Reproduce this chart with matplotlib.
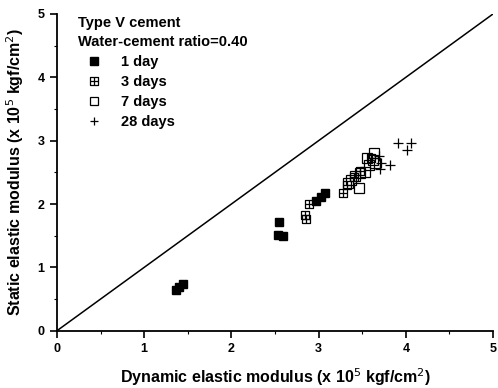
import numpy as np
import matplotlib
matplotlib.use("Agg")
import matplotlib.pyplot as plt
from matplotlib.path import Path
from matplotlib.ticker import MultipleLocator

plt.rcParams['font.family'] = ['Liberation Sans', 'DejaVu Sans']

# 1 day
x1 = [1.36, 1.40, 1.44, 2.53, 2.59, 2.55, 2.97, 3.03, 3.07]
y1 = [0.64, 0.69, 0.74, 1.51, 1.50, 1.71, 2.04, 2.11, 2.18]
# 3 days
x3 = [2.84, 2.86, 2.89, 3.28, 3.32, 3.40, 3.48, 3.60]
y3 = [1.83, 1.76, 2.00, 2.17, 2.30, 2.42, 2.52, 2.72]
# 7 days
x7 = [3.34, 3.37, 3.42, 3.47, 3.53, 3.46, 3.55, 3.62, 3.64, 3.65, 3.58]
y7 = [2.33, 2.38, 2.44, 2.49, 2.51, 2.25, 2.73, 2.70, 2.80, 2.64, 2.62]
# 28 days
x28 = [3.69, 3.70, 3.72, 3.82, 3.91, 4.01, 4.06]
y28 = [2.76, 2.55, 2.64, 2.62, 2.97, 2.85, 2.96]

line_x = [0, 5]
line_y = [0, 5]

# square with a cross inside
verts = [(-1, -1), (1, -1), (1, 1), (-1, 1), (-1, -1),
         (0, -1), (0, 1), (-1, 0), (1, 0)]
codes = [Path.MOVETO, Path.LINETO, Path.LINETO, Path.LINETO, Path.LINETO,
         Path.MOVETO, Path.LINETO, Path.MOVETO, Path.LINETO]
boxplus = Path(verts, codes)

fig = plt.figure(figsize=(4.98, 3.88), dpi=100)
ax = fig.add_axes([0.1145, 0.1477, 0.8755, 0.8163])

ax.plot(line_x, line_y, color='black', lw=1.1)
ax.plot(x1, y1, 's', color='black', ms=6, label='1 day', linestyle='none')
ax.plot(x3, y3, marker=boxplus, color='black', mfc='none', mew=0.9, ms=6,
        label='3 days', linestyle='none')
ax.plot(x7, y7, 's', color='black', mfc='none', mew=0.9, ms=7,
        label='7 days', linestyle='none')
ax.plot(x28, y28, '+', color='black', mew=0.9, ms=7, label='28 days',
        linestyle='none')

ax.set_xlim(0, 5)
ax.set_ylim(0, 5)
ax.xaxis.set_major_locator(MultipleLocator(1))
ax.yaxis.set_major_locator(MultipleLocator(1))
ax.xaxis.set_minor_locator(MultipleLocator(0.5))
ax.yaxis.set_minor_locator(MultipleLocator(0.5))
ax.spines['top'].set_visible(False)
ax.spines['right'].set_visible(False)
ax.spines['left'].set_linewidth(1.3)
ax.spines['bottom'].set_linewidth(1.3)
ax.tick_params(which='major', direction='out', length=5, width=1.2,
               labelsize=9, pad=4)
ax.tick_params(which='minor', direction='out', length=2.5, width=0.8)
for lab in ax.get_xticklabels() + ax.get_yticklabels():
    lab.set_fontweight('bold')

ax.set_xlabel('Dynamic elastic modulus (x 10$^5$ kgf/cm$^2$)', fontsize=11.5,
              fontweight='bold', labelpad=8)
ax.set_ylabel('Static elastic modulus (x 10$^5$ kgf/cm$^2$)', fontsize=11.5,
              fontweight='bold', labelpad=8)

leg = ax.legend(title='Type V cement\nWater-cement ratio=0.40',
                loc='upper left', frameon=False,
                prop={'size': 10.5, 'weight': 'bold'},
                title_fontproperties={'size': 10.5, 'weight': 'bold'},
                alignment='left', handlelength=2.2,
                handletextpad=0.75, labelspacing=0.4, borderaxespad=0.2,
                bbox_to_anchor=(0.027, 1.02), markerscale=0.9)
leg.get_title().set_linespacing(1.45)

fig.savefig('out.png', dpi=100)
